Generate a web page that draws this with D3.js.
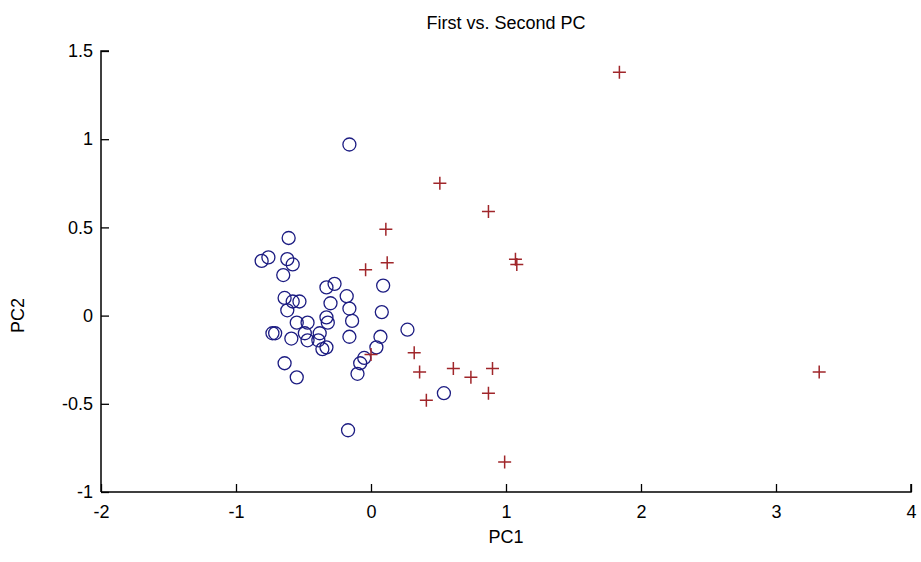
<!DOCTYPE html>
<html>
<head>
<meta charset="utf-8">
<script src="https://cdnjs.cloudflare.com/ajax/libs/d3/7.8.5/d3.min.js"></script>
<style>
  body { margin: 0; background: #fff; }
  text { font-family: "Liberation Sans", Arial, sans-serif; fill: #000; }
</style>
</head>
<body>
<div class="chart"></div>
<script>
'use strict';

/*---------------------------------------------------------------
data
---------------------------------------------------------------*/
var xTicks = [-2, -1, 0, 1, 2, 3, 4];
var yTicks = [-1, -0.5, 0, 0.5, 1, 1.5];

// group 1 : blue circles
var circlePC1 = [-0.16, -0.61, -0.81, -0.76, -0.62, -0.58, -0.65, -0.33, -0.27, 0.09,
                 -0.64, -0.58, -0.53, -0.62, -0.18, -0.30, -0.16, 0.08, -0.33, -0.14,
                 -0.55, -0.47, -0.32, -0.73, -0.71, -0.59, -0.49, -0.47, -0.38, -0.39,
                 -0.16, 0.07, 0.27, -0.36, -0.33, 0.04, -0.08, -0.10, -0.64, -0.55,
                 -0.17, 0.54, -0.05];
var circlePC2 = [0.97, 0.44, 0.31, 0.33, 0.32, 0.29, 0.23, 0.16, 0.18, 0.17,
                 0.10, 0.08, 0.08, 0.03, 0.11, 0.07, 0.04, 0.02, -0.01, -0.03,
                 -0.04, -0.04, -0.04, -0.10, -0.10, -0.13, -0.10, -0.14, -0.10, -0.14,
                 -0.12, -0.12, -0.08, -0.19, -0.18, -0.18, -0.27, -0.33, -0.27, -0.35,
                 -0.65, -0.44, -0.24];

// group 2 : red crosses
var crossPC1 = [1.84, 0.51, 0.87, 0.11, 0.12, -0.04, 1.07, 1.08, 0.32, 0.36,
                0.61, 0.74, 0.90, 0.87, 0.41, 0.99, 0.00, 3.32];
var crossPC2 = [1.38, 0.75, 0.59, 0.49, 0.30, 0.26, 0.32, 0.29, -0.21, -0.32,
                -0.30, -0.35, -0.30, -0.44, -0.48, -0.83, -0.22, -0.32];

/*---------------------------------------------------------------
set width + height
---------------------------------------------------------------*/
var w = 921,
    h = 562,
    m = { top: 51, right: 10, bottom: 70, left: 101 },
    fs = 18;

var svg = d3.select('.chart')
    .append('svg')
    .attr('width', w)
    .attr('height', h);

var x = d3.scaleLinear().domain([-2, 4]).range([m.left, w - m.right]);
var y = d3.scaleLinear().domain([-1, 1.5]).range([h - m.bottom, m.top]);

// plain hyphen for negatives, like the original
var fmt = function(d) { return String(d); };

/*---------------------------------------------------------------
axes (ticks point inwards, no box)
---------------------------------------------------------------*/
var xAxis = svg.append('g')
    .attr('transform', 'translate(0,' + y(-1) + ')')
    .call(d3.axisBottom(x).tickValues(xTicks).tickSize(-8).tickPadding(13).tickFormat(fmt));

var yAxis = svg.append('g')
    .attr('transform', 'translate(' + x(-2) + ',0)')
    .call(d3.axisLeft(y).tickValues(yTicks).tickSize(-8).tickPadding(8).tickFormat(fmt));

[xAxis, yAxis].forEach(function(a) {
    a.select('.domain').attr('stroke', '#000').attr('stroke-width', 1.5);
    a.selectAll('.tick line').attr('stroke', '#000').attr('stroke-width', 1.3);
    a.selectAll('.tick text').attr('font-size', fs).attr('fill', '#000');
});
// the domain path has outer ticks; redraw it plain
xAxis.select('.domain').attr('d', 'M' + x(-2) + ',0H' + x(4) + 'V-8');
yAxis.select('.domain').attr('d', 'M8,' + y(1.5) + 'H0V' + y(-1));

/*---------------------------------------------------------------
points
---------------------------------------------------------------*/
var circles = circlePC1.map(function(d, i) { return [d, circlePC2[i]]; });
var crosses = crossPC1.map(function(d, i) { return [d, crossPC2[i]]; });

svg.append('g').selectAll('circle')
    .data(circles)
    .enter()
    .append('circle')
    .attr('cx', function(d) { return x(d[0]); })
    .attr('cy', function(d) { return y(d[1]); })
    .attr('r', 6.5)
    .attr('fill', 'none')
    .attr('stroke', '#1c1c82')
    .attr('stroke-width', 1.3);

var s = 6.5;
svg.append('g').selectAll('path')
    .data(crosses)
    .enter()
    .append('path')
    .attr('d', function(d) {
        var cx = x(d[0]), cy = y(d[1]);
        return 'M' + (cx - s) + ',' + cy + 'H' + (cx + s) + 'M' + cx + ',' + (cy - s) + 'V' + (cy + s);
    })
    .attr('stroke', '#a0262a')
    .attr('stroke-width', 1.5);

/*---------------------------------------------------------------
labels
---------------------------------------------------------------*/
svg.append('text')
    .attr('x', (x(-2) + x(4)) / 2)
    .attr('y', 29)
    .attr('text-anchor', 'middle')
    .attr('font-size', fs)
    .text('First vs. Second PC');

svg.append('text')
    .attr('x', (x(-2) + x(4)) / 2)
    .attr('y', 543)
    .attr('text-anchor', 'middle')
    .attr('font-size', fs)
    .text('PC1');

svg.append('text')
    .attr('transform', 'translate(24,' + y(0) + ') rotate(-90)')
    .attr('text-anchor', 'middle')
    .attr('font-size', fs)
    .text('PC2');
</script>
</body>
</html>
